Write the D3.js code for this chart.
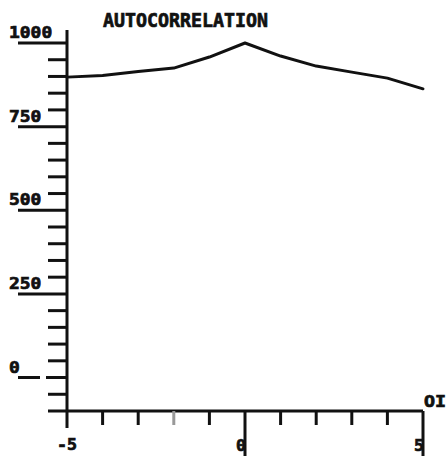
<!DOCTYPE html>
<html>
<head>
<meta charset="utf-8">
<script src="https://cdn.jsdelivr.net/npm/d3@7"></script>
<style>
  html, body { margin: 0; padding: 0; background: #fff; }
  svg { display: block; }
  text { font-family: "DejaVu Sans Mono", monospace; font-weight: bold; fill: #111; stroke: #111; stroke-width: 0.7px; }
</style>
</head>
<body>
<svg id="chart" width="446" height="456"></svg>
<script>
// Autocorrelation by lag
const lags   = [-5, -4, -3, -2, -1, 0, 1, 2, 3, 4, 5];
const values = [898, 903, 915, 925, 958, 1000, 961, 931, 913, 895, 863];

// Axis ticks
const yMinorTicks  = d3.range(-50, 1001, 50);
const yMajorTicks  = [0, 250, 500, 750, 1000];
const yTickLabels  = ["0", "250", "500", "750", "1000"];
const xMinorTicks  = [-4, -3, -2, -1, 1, 2, 3, 4];
const xMajorTicks  = [-5, 0, 5];
const xTickLabels  = ["-5", "0", "5"];

const svg = d3.select("#chart");
const ink = "#111";

const x = d3.scaleLinear().domain([-5, 5]).range([67, 423]);
const y = d3.scaleLinear().domain([-100, 1000]).range([411, 43]);

// Vertical axis line
svg.append("line")
  .attr("x1", x(-5)).attr("x2", x(-5))
  .attr("y1", 30).attr("y2", 428)
  .attr("stroke", ink).attr("stroke-width", 3);

// Horizontal axis line at the bottom of the value range
svg.append("line")
  .attr("x1", 48).attr("x2", x(5))
  .attr("y1", y(-100)).attr("y2", y(-100))
  .attr("stroke", ink).attr("stroke-width", 3);

// Short ticks on the value axis
svg.selectAll(".ytick")
  .data(yMinorTicks.filter(v => !yMajorTicks.includes(v)))
  .join("line")
  .attr("x1", 48).attr("x2", x(-5))
  .attr("y1", d => y(d)).attr("y2", d => y(d))
  .attr("stroke", ink).attr("stroke-width", 3);

// Long ticks under the value labels
svg.selectAll(".ymajor")
  .data(yMajorTicks)
  .join("line")
  .attr("x1", 18).attr("x2", x(-5))
  .attr("y1", d => y(d)).attr("y2", d => y(d))
  .attr("stroke", ink).attr("stroke-width", 3)
  .attr("stroke-dasharray", d => d === 0 ? "22,6,60" : null);

// Value labels
svg.selectAll(".ylabel")
  .data(yMajorTicks)
  .join("text")
  .attr("x", 9)
  .attr("y", d => y(d) - 5)
  .attr("font-size", 16)
  .attr("textLength", (d, i) => yTickLabels[i].length * 10.8)
  .attr("lengthAdjust", "spacingAndGlyphs")
  .text((d, i) => yTickLabels[i]);

// Lag ticks
svg.selectAll(".xtick")
  .data(xMinorTicks)
  .join("line")
  .attr("x1", d => x(d)).attr("x2", d => x(d))
  .attr("y1", y(-100)).attr("y2", 425)
  .attr("stroke", d => d === -2 ? "#999" : ink).attr("stroke-width", 3);

svg.selectAll(".xmajor")
  .data(xMajorTicks.filter(d => d !== -5))
  .join("line")
  .attr("x1", d => x(d)).attr("x2", d => x(d))
  .attr("y1", y(-100)).attr("y2", 456)
  .attr("stroke", ink).attr("stroke-width", 3);

// Lag labels
svg.selectAll(".xlabel")
  .data(xMajorTicks)
  .join("text")
  .attr("x", d => x(d) + (d === -5 ? -10 : -9))
  .attr("y", d => d === -5 ? 450 : 451)
  .attr("font-size", d => d === -5 ? 15 : 16)
  .attr("textLength", (d, i) => xTickLabels[i].length * 10)
  .attr("lengthAdjust", "spacingAndGlyphs")
  .text((d, i) => xTickLabels[i]);

// Axis name at the end of the lag axis
svg.append("text")
  .attr("x", x(5) + 1).attr("y", 407)
  .attr("font-size", 16)
  .attr("textLength", 22).attr("lengthAdjust", "spacingAndGlyphs")
  .text("OI");

// Title
svg.append("text")
  .attr("x", 103).attr("y", 27)
  .attr("font-size", 19)
  .attr("textLength", 165).attr("lengthAdjust", "spacingAndGlyphs")
  .text("AUTOCORRELATION");

// Autocorrelation curve
const line = d3.line().x(d => x(d[0])).y(d => y(d[1]));
svg.append("path")
  .datum(d3.zip(lags, values))
  .attr("d", line)
  .attr("fill", "none")
  .attr("stroke", ink)
  .attr("stroke-width", 3)
  .attr("stroke-linejoin", "round")
  .attr("stroke-linecap", "round");
</script>
</body>
</html>
